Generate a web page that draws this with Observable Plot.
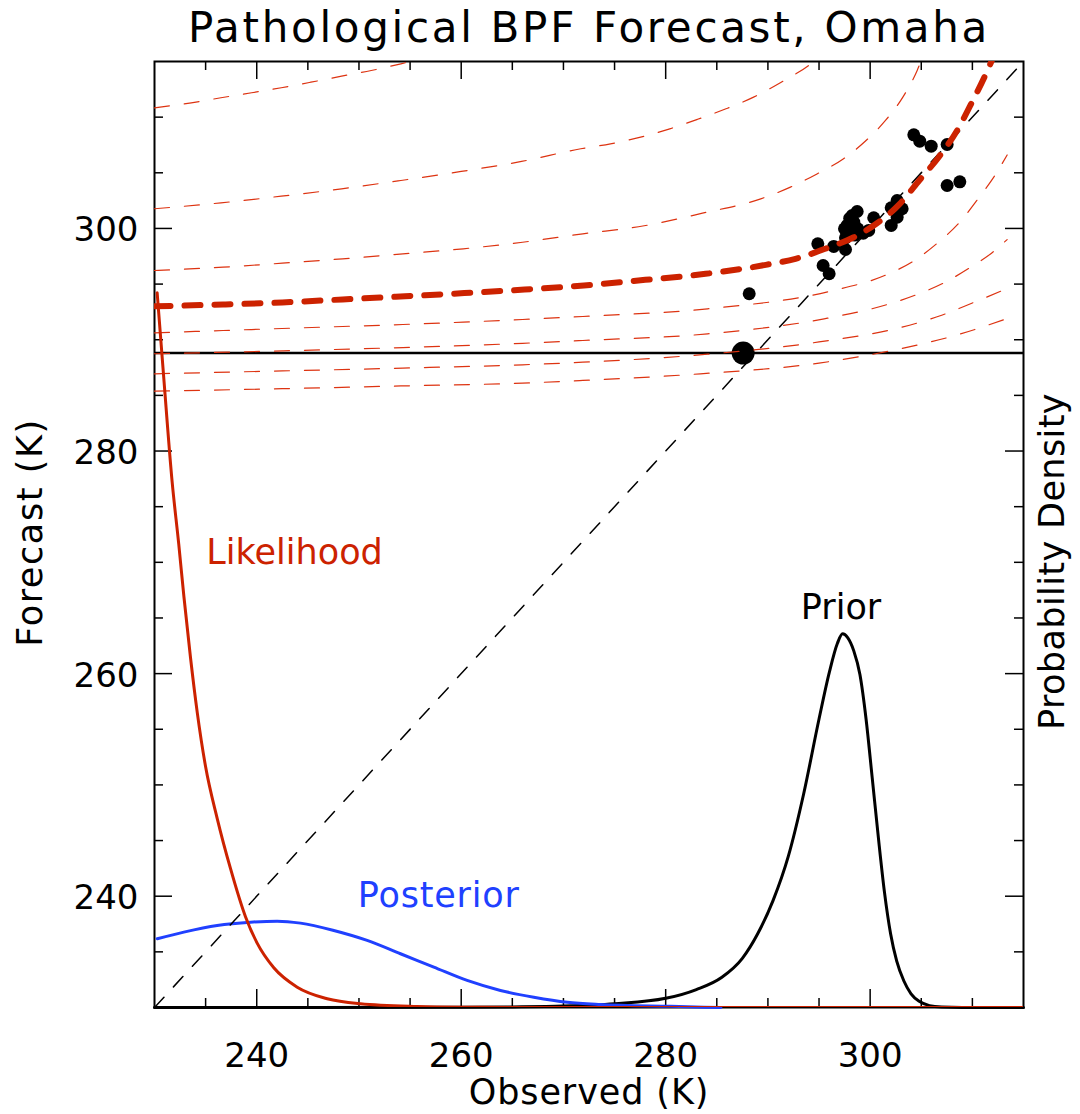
<!DOCTYPE html>
<html><head><meta charset="utf-8">
<script src="https://cdn.jsdelivr.net/npm/d3@7"></script>
<script src="https://cdn.jsdelivr.net/npm/@observablehq/plot@0.6"></script>
<style>body{margin:0;background:#fff;} #chart svg{display:block;}</style>
</head><body><div id="chart"></div>
<script>
// ---------- data ----------
const xDomain = [230, 315];
const yDomain = [230, 315];
const majorTicks = [240, 260, 280, 300];
const minorTicks = [235, 245, 250, 255, 265, 270, 275, 285, 290, 295, 305, 310];

// scatter of forecast vs observed
const obsPoints  = [304.27, 304.85, 305.97, 307.53, 307.53, 308.77, 302.64, 302.06, 303.13, 302.64, 302.06, 300.35, 299.86, 299.32, 298.73, 298.24, 297.75, 298.4, 297.49, 298.79, 297.59, 297.59, 296.44, 294.88, 295.4, 295.99, 288.17, 298.0, 298.5, 297.8];
const fcstPoints = [308.41, 307.84, 307.39, 307.54, 303.86, 304.19, 302.51, 301.86, 301.77, 301.01, 300.27, 300.96, 299.82, 299.57, 301.52, 301.16, 300.27, 300.56, 299.97, 299.97, 299.16, 298.11, 298.38, 298.62, 296.67, 295.93, 294.13, 300.9, 299.4, 299.6];

// current forecast value and its observed counterpart (big dot)
const currentForecast = 288.8;
const currentObserved = 287.58;

// conditional mean of forecast given observed (thick dashed)
const meanCurve = [[230,293.0],[236.7,293.17],[242.5,293.35],[248.4,293.62],[254.5,293.91],[260.3,294.19],[266.2,294.51],[272.0,294.87],[278.0,295.38],[283.9,295.92],[289.8,296.73],[292.7,297.27],[295.6,298.17],[298.4,299.21],[300.6,300.42],[302.9,302.21],[304.8,304.31],[306.7,306.4],[308.6,308.95],[309.8,311.05],[311.4,314.04],[312.0,315.3]];

// conditional quantile curves (thin dashed)
const quantA = [[230,310.84],[233.6,311.29],[236.5,311.74],[239.5,312.19],[242.4,312.64],[245.3,313.14],[248.3,313.68],[251.2,314.19],[254.1,314.79],[255.5,315.1]];
const quantB = [[230,301.77],[236.5,302.3],[242.4,302.9],[248.3,303.56],[254.1,304.31],[260,305.12],[265.9,306.02],[271.7,307.16],[274.6,307.6],[280.4,308.95],[283.1,309.8],[285.9,310.75],[288.6,311.8],[291.3,313.14],[294.2,314.8],[294.6,315.1]];
const quantC = [[230,296.22],[236.7,296.52],[242.5,296.88],[248.4,297.27],[254.3,297.72],[260.2,298.17],[266.0,298.76],[271.9,299.52],[277.9,300.24],[283.6,301.37],[289.3,302.66],[292.2,303.71],[294.8,304.9],[297.4,306.26],[299.6,307.9],[301.5,309.7],[303.2,311.8],[304.6,314.2],[305.0,315.1]];
const quantD = [[230,290.62],[236.7,290.83],[242.5,291.01],[248.4,291.19],[254.3,291.37],[260.2,291.58],[266.0,291.82],[271.9,292.09],[284.1,292.78],[296.1,294.36],[301.5,295.8],[304.3,297.1],[306.6,298.7],[308.8,300.6],[310.5,302.6],[312.3,304.9],[313.4,306.6]];
const quantE = [[230,288.74],[242.5,289.0],[254.3,289.3],[266.0,289.68],[271.9,289.93],[284.1,290.53],[295.5,291.88],[301.7,293.17],[304.4,294.0],[307.2,295.1],[309.8,296.5],[311.9,297.8],[313.4,299.0]];
const quantF = [[230,286.94],[242.5,287.2],[254.3,287.45],[266.0,287.75],[271.9,287.98],[284.1,288.7],[295,289.8],[303,291.1],[307,292.2],[310,293.3],[313.4,294.6]];
const quantG = [[230,285.38],[242.5,285.6],[254.3,285.85],[266.0,286.1],[271.9,286.34],[283.4,286.94],[295,287.9],[303,289.2],[308,290.3],[313.4,291.9]];

// probability densities (right axis, 0..1 = bottom..top of the panel)
const priorX = [230, 260, 265, 270, 275, 280, 283, 285.5, 287.5, 289, 290.5, 292, 293.5, 295, 296, 296.8, 297.3, 297.8, 298.4, 299, 299.6, 300.2, 300.8, 301.4, 302, 302.6, 303.3, 304, 304.8, 305.8, 307, 309, 315];
const priorD = [0, 0.0002, 0.0006, 0.0015, 0.004, 0.0097, 0.019, 0.032, 0.052, 0.078, 0.113, 0.160, 0.226, 0.305, 0.354, 0.385, 0.395, 0.391, 0.377, 0.352, 0.305, 0.243, 0.180, 0.122, 0.078, 0.049, 0.028, 0.0145, 0.0065, 0.002, 0.0005, 0, 0];
const posteriorX = [230.26, 232.87, 236.13, 239.39, 242.0, 244.28, 247.54, 250.8, 254.06, 257.32, 260.58, 263.84, 267.1, 270.37, 273.62, 280.5, 285.4];
const posteriorD = [0.0727, 0.0797, 0.0867, 0.0902, 0.0913, 0.0892, 0.0814, 0.0709, 0.0568, 0.0427, 0.0286, 0.018, 0.0109, 0.0056, 0.0032, 0.0012, 0];
const likelihoodX = [230.26, 230.91, 231.73, 232.37, 232.87, 233.52, 234.18, 234.99, 236.13, 237.43, 238.9, 240.04, 241.67, 243.96, 246.89, 250.15, 255.69, 260, 265, 270, 315];
const likelihoodD = [0.7555, 0.665, 0.555, 0.49, 0.435, 0.37, 0.312, 0.255, 0.2, 0.147, 0.096, 0.068, 0.042, 0.0215, 0.0093, 0.004, 0.0011, 0.0003, 0.00005, 0, 0];

const curveLabels = [
  {text: "Likelihood", x: 243.7, y: 270.9, color: "#cc2200"},
  {text: "Posterior", x: 257.8, y: 240.0, color: "#2040ff"},
  {text: "Prior", x: 297.15, y: 265.9, color: "#000000"}
];

// ---------- build ----------
const density = d3.scaleLinear([0, 1], yDomain);
const toRows = (xs, ds) => xs.map((x, i) => ({x, y: density(ds[i])}));
const pairs = arr => arr.map(([x, y]) => ({x, y}));
const scatter = obsPoints.map((x, i) => ({x, y: fcstPoints[i]}));
const diagonal = [{x: xDomain[0], y: yDomain[0]}, {x: xDomain[1], y: yDomain[1]}];

const W = 1080, H = 1114;
const mL = 154, mR = 57, mT = 61, mB = 107;
const fH = H - mT - mB, fW = W - mL - mR;
const font = "DejaVu Sans";
const thinRed = "#dd3311";
const quantiles = [quantA, quantB, quantC, quantD, quantE, quantF, quantG];

const chart = Plot.plot({
  width: W, height: H,
  marginLeft: mL, marginRight: mR, marginTop: mT, marginBottom: mB,
  x: {domain: xDomain, axis: null},
  y: {domain: yDomain, axis: null},
  style: {fontFamily: font, background: "#fff"},
  marks: [
    // ticks (inward on all four sides)
    Plot.ruleX(majorTicks, {x: d => d, insetTop: fH - 18, stroke: "black", strokeWidth: 1.5}),
    Plot.ruleX(minorTicks, {x: d => d, insetTop: fH - 9, stroke: "black", strokeWidth: 1.5}),
    Plot.ruleX(majorTicks, {x: d => d, insetBottom: fH - 18, stroke: "black", strokeWidth: 1.5}),
    Plot.ruleX(minorTicks, {x: d => d, insetBottom: fH - 9, stroke: "black", strokeWidth: 1.5}),
    Plot.ruleY(majorTicks, {y: d => d, insetRight: fW - 18, stroke: "black", strokeWidth: 1.5}),
    Plot.ruleY(minorTicks, {y: d => d, insetRight: fW - 9, stroke: "black", strokeWidth: 1.5}),
    Plot.ruleY(majorTicks, {y: d => d, insetLeft: fW - 18, stroke: "black", strokeWidth: 1.5}),
    Plot.ruleY(minorTicks, {y: d => d, insetLeft: fW - 9, stroke: "black", strokeWidth: 1.5}),
    Plot.frame({stroke: "black", strokeWidth: 2}),

    // densities
    Plot.line(toRows(priorX, priorD), {x: "x", y: "y", stroke: "black", strokeWidth: 3, curve: "monotone-x"}),
    Plot.line(toRows(posteriorX, posteriorD), {x: "x", y: "y", stroke: "#2040ff", strokeWidth: 3, curve: "monotone-x"}),

    // scatter
    Plot.dot(scatter, {x: "x", y: "y", r: 6.5, fill: "black", stroke: "none"}),
    Plot.ruleY([currentForecast], {y: d => d, stroke: "black", strokeWidth: 2.5}),
    Plot.dot([{x: currentObserved, y: currentForecast}], {x: "x", y: "y", r: 11.5, fill: "black"}),
    Plot.line(diagonal, {x: "x", y: "y", stroke: "black", strokeWidth: 1.5, strokeDasharray: "14,14", clip: true}),

    // quantile curves
    ...quantiles.map(q => Plot.line(pairs(q), {x: "x", y: "y", stroke: thinRed, strokeWidth: 1.2, strokeDasharray: "15,15", curve: "monotone-x", clip: true})),
    Plot.line(pairs(meanCurve), {x: "x", y: "y", stroke: "#cc2200", strokeWidth: 6, strokeDasharray: "16,14", curve: "monotone-x", clip: true}),

    // likelihood on top
    Plot.line(toRows(likelihoodX, likelihoodD), {x: "x", y: "y", stroke: "#cc2200", strokeWidth: 3, curve: "monotone-x", clip: true}),

    // curve labels
    Plot.text(curveLabels, {x: "x", y: "y", text: "text", fill: "color", fontSize: 35}),

    // tick labels
    Plot.text(majorTicks, {x: d => d, text: d => String(d), frameAnchor: "bottom", lineAnchor: "middle", dy: 49, fontSize: 34, fill: "black"}),
    Plot.text(majorTicks, {y: d => d, text: d => String(d), frameAnchor: "left", lineAnchor: "middle", dx: -16, dy: 2, textAnchor: "end", fontSize: 34, fill: "black"}),

    // axis titles
    Plot.text(["Observed (K)"], {frameAnchor: "bottom", lineAnchor: "middle", textAnchor: "middle", dy: 85, fontSize: 35, fill: "black"}),
    Plot.text(["Forecast (K)"], {frameAnchor: "left", lineAnchor: "middle", textAnchor: "middle", dx: -124, dy: -2, rotate: -90, fontSize: 35, fill: "black"}),
    Plot.text(["Probability Density"], {frameAnchor: "right", lineAnchor: "middle", textAnchor: "middle", dx: 29.5, dy: 27, rotate: -90, fontSize: 35, fill: "black"}),
    Plot.text(["Pathological BPF Forecast, Omaha"], {frameAnchor: "top", lineAnchor: "middle", textAnchor: "middle", dy: -33, fontSize: 42, fill: "black"})
  ]
});

// letter spacing (Plot.text has no option for it)
const spacing = {
  "Pathological BPF Forecast, Omaha": "2.7px",
  "Observed (K)": "0.9px",
  "Forecast (K)": "1.6px",
  "Probability Density": "0.4px",
  "Posterior": "0.8px"
};
chart.querySelectorAll("text").forEach(t => {
  const s = spacing[t.textContent];
  if (s) t.style.letterSpacing = s;
});
document.getElementById("chart").appendChild(chart);
</script></body></html>
